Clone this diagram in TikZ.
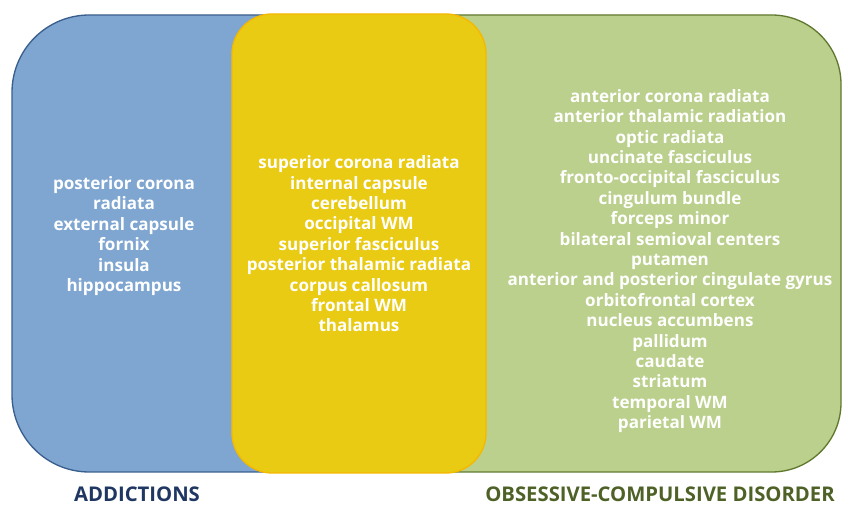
\documentclass[tikz,border=0pt]{standalone}
\usepackage{fontspec}
\setmainfont{Open Sans}
\definecolor{addfill}{HTML}{7FA6D1}
\definecolor{adddraw}{HTML}{3A5F8E}
\definecolor{ocdfill}{HTML}{BBD08C}
\definecolor{ocddraw}{HTML}{60792F}
\definecolor{sharefill}{HTML}{E9CB14}
\definecolor{sharedraw}{HTML}{F5B800}
\definecolor{addtext}{HTML}{1F3762}
\definecolor{ocdtext}{HTML}{4E6126}

\begin{document}
\begin{tikzpicture}[x=0.75pt, y=-0.75pt, line join=round,
	region/.style={line width=1pt},
	termlist/.style={text=white, align=center, inner sep=0pt,
		font=\fontsize{12.8}{15.3}\selectfont\bfseries},
	setlabel/.style={inner sep=0pt, font=\fontsize{15.2}{17}\selectfont\bfseries}]
	
	\useasboundingbox (0,0) rectangle (842,505);
	
	% ---- the three regions (blue, green, yellow overlap on top) ----
	\draw[region, fill=addfill, draw=adddraw, rounded corners=58pt]
	(12,15) rectangle (450,472);
	\draw[region, fill=ocdfill, draw=ocddraw, rounded corners=52pt]
	(270,15) rectangle (841,472);
	\draw[region, fill=sharefill, draw=sharedraw, rounded corners=30pt]
	(232,14) rectangle (486,473);
	
	% ---- term lists ----
	\node[termlist] (addlist) at (124,236)
	{posterior corona\\ radiata\\ external capsule\\ fornix\\ insula\\ hippocampus};
	
	\node[termlist] (sharedlist) at (359,244)
	{superior corona radiata\\ internal capsule\\ cerebellum\\ occipital WM\\
		superior fasciculus\\ posterior thalamic radiata\\ corpus callosum\\
		frontal WM\\ thalamus};
	
	\node[termlist] (ocdlist) at (670,261)
	{anterior corona radiata\\ anterior thalamic radiation\\ optic radiata\\
		uncinate fasciculus\\ fronto-occipital fasciculus\\ cingulum bundle\\
		forceps minor\\ bilateral semioval centers\\ putamen\\
		anterior and posterior cingulate gyrus\\ orbitofrontal cortex\\
		nucleus accumbens\\ pallidum\\ caudate\\ striatum\\ temporal WM\\
		parietal WM};
	
	% ---- set labels ----
	\node[setlabel, text=addtext] (addlabel) at (137,494) {ADDICTIONS};
	\node[setlabel, text=ocdtext] (ocdlabel) at (660,494) {OBSESSIVE-COMPULSIVE DISORDER};
	
\end{tikzpicture}
\end{document}
